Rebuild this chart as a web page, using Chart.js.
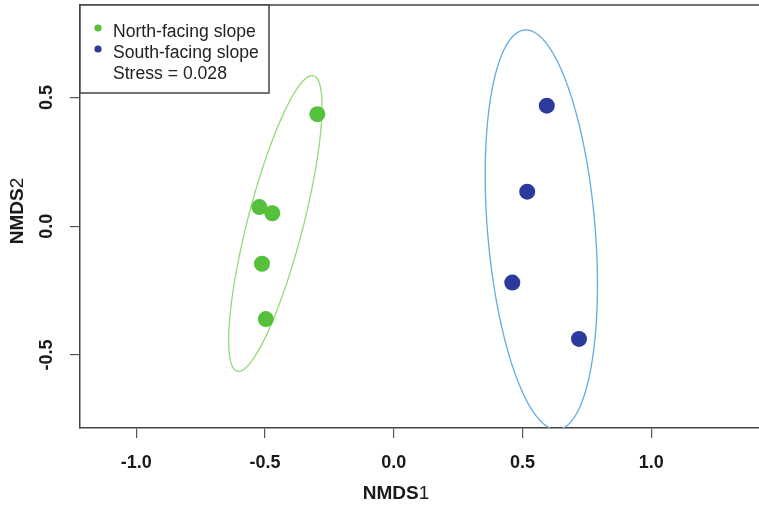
<!DOCTYPE html>
<html><head><meta charset="utf-8">
<script src="https://cdn.jsdelivr.net/npm/chart.js@4.4.1/dist/chart.umd.min.js"></script>
<style>html,body{margin:0;padding:0;background:#fff;overflow:hidden}#wrap{width:759px;height:507px;position:relative}canvas{display:block}</style>
</head><body><div id="wrap"><canvas id="c" width="759" height="507"></canvas></div>
<script>
// NMDS site scores per slope aspect
const groupNames = ['North-facing slope', 'South-facing slope'];
const northX = [-0.297, -0.522, -0.472, -0.512, -0.497];
const northY = [0.435, 0.074, 0.050, -0.146, -0.361];
const southX = [0.594, 0.518, 0.460, 0.719];
const southY = [0.468, 0.134, -0.219, -0.438];
const xTicks = [-1.0, -0.5, 0.0, 0.5, 1.0];
const yTicks = [-0.5, 0.0, 0.5];
const stressText = 'Stress = 0.028';
const ellipseConf = 0.85;

const FONT = '"Liberation Sans", Arial, sans-serif';
const pointColors = ['#55c13b', '#2b3a9c'];
const ellipseColors = ['#8fdc78', '#62acdf'];

// dispersion ellipse from the group's covariance (chi-square scaled, 2 df)
function ellipse(xs, ys, conf, n = 240) {
  const k = xs.length;
  const mx = xs.reduce((a, b) => a + b, 0) / k;
  const my = ys.reduce((a, b) => a + b, 0) / k;
  let sxx = 0, syy = 0, sxy = 0;
  for (let i = 0; i < k; i++) {
    const dx = xs[i] - mx, dy = ys[i] - my;
    sxx += dx * dx; syy += dy * dy; sxy += dx * dy;
  }
  sxx /= (k - 1); syy /= (k - 1); sxy /= (k - 1);
  const s = Math.sqrt(-2 * Math.log(1 - conf));
  const l11 = Math.sqrt(sxx), l21 = sxy / l11, l22 = Math.sqrt(syy - l21 * l21);
  const pts = [];
  for (let i = 0; i <= n; i++) {
    const t = 2 * Math.PI * i / n;
    const c = Math.cos(t), sn = Math.sin(t);
    pts.push({ x: mx + s * l11 * c, y: my + s * (l21 * c + l22 * sn) });
  }
  return pts;
}
const zip = (xs, ys) => xs.map((x, i) => ({ x, y: ys[i] }));

// frame top edge, y tick labels, axis titles and legend box
const decorations = {
  id: 'decorations',
  afterDraw(chart) {
    const { ctx, chartArea: a, scales } = chart;
    ctx.save();
    ctx.strokeStyle = '#444';
    ctx.lineWidth = 1.5;
    ctx.beginPath();
    ctx.moveTo(a.left, a.top);
    ctx.lineTo(a.right + 2, a.top);
    ctx.stroke();

    ctx.fillStyle = '#1a1a1a';
    ctx.font = 'bold 18px ' + FONT;
    ctx.textAlign = 'center';
    ctx.textBaseline = 'middle';
    yTicks.forEach(v => {
      const py = scales.y.getPixelForValue(v);
      ctx.save();
      ctx.translate(46, py);
      ctx.rotate(-Math.PI / 2);
      ctx.fillText(v.toFixed(1), 0, 1);
      ctx.restore();
    });

    const drawTitle = (main, sub, cx, cy, rot) => {
      ctx.save();
      ctx.translate(cx, cy);
      ctx.rotate(rot);
      ctx.font = 'bold 19px ' + FONT;
      const w1 = ctx.measureText(main).width;
      ctx.font = '19px ' + FONT;
      const w2 = ctx.measureText(sub).width;
      ctx.textAlign = 'left';
      ctx.textBaseline = 'middle';
      ctx.fillStyle = '#1a1a1a';
      ctx.font = 'bold 19px ' + FONT;
      ctx.fillText(main, -(w1 + w2) / 2, 0);
      ctx.font = '19px ' + FONT;
      ctx.fillText(sub, -(w1 + w2) / 2 + w1, 0);
      ctx.restore();
    };
    drawTitle('NMDS', '1', 396, 494, 0);
    drawTitle('NMDS', '2', 18, 211, -Math.PI / 2);

    // legend
    const bx = a.left, by = a.top, bw = 189, bh = 88;
    ctx.fillStyle = '#fff';
    ctx.fillRect(bx, by, bw, bh);
    ctx.strokeStyle = '#444';
    ctx.lineWidth = 1.5;
    ctx.strokeRect(bx, by, bw, bh);
    ctx.font = '17.6px ' + FONT;
    ctx.textAlign = 'left';
    ctx.textBaseline = 'middle';
    const rows = [groupNames[0], groupNames[1], stressText];
    rows.forEach((txt, i) => {
      const ty = by + 26 + i * 21;
      if (i < 2) {
        ctx.fillStyle = pointColors[i];
        ctx.beginPath();
        ctx.arc(bx + 18, ty - 3, 3.6, 0, 2 * Math.PI);
        ctx.fill();
      }
      ctx.fillStyle = '#222';
      ctx.fillText(txt, bx + 33, ty + 1);
    });
    ctx.restore();
  }
};

const ellipseStyle = { showLine: true, borderWidth: 1.3, pointRadius: 0, fill: false, tension: 0.05 };

new Chart(document.getElementById('c'), {
  type: 'scatter',
  data: {
    datasets: [
      { label: groupNames[0], data: zip(northX, northY), backgroundColor: pointColors[0], borderWidth: 0, pointRadius: 8, pointHoverRadius: 8 },
      { label: groupNames[1], data: zip(southX, southY), backgroundColor: pointColors[1], borderWidth: 0, pointRadius: 8, pointHoverRadius: 8 },
      Object.assign({ label: 'north ellipse', data: ellipse(northX, northY, ellipseConf), borderColor: ellipseColors[0] }, ellipseStyle),
      Object.assign({ label: 'south ellipse', data: ellipse(southX, southY, ellipseConf), borderColor: ellipseColors[1] }, ellipseStyle)
    ]
  },
  options: {
    responsive: false,
    animation: false,
    devicePixelRatio: 1,
    layout: { autoPadding: false, padding: { top: 5, right: 0, left: 0, bottom: 0 } },
    plugins: { legend: { display: false }, tooltip: { enabled: false } },
    scales: {
      x: {
        type: 'linear', min: -1.2186, max: 1.418,
        afterBuildTicks: s => { s.ticks = xTicks.map(v => ({ value: v })); },
        afterFit: s => { s.height = 79; },
        grid: { display: true, drawOnChartArea: false, drawTicks: true, tickLength: 10, color: '#555', lineWidth: 1.2 },
        border: { display: true, color: '#444', width: 1.5 },
        ticks: { color: '#1a1a1a', font: { family: FONT, size: 18, weight: 'bold' }, padding: 14, maxRotation: 0, callback: v => v.toFixed(1) }
      },
      y: {
        type: 'linear', min: -0.784, max: 0.859,
        afterBuildTicks: s => { s.ticks = yTicks.map(v => ({ value: v })); },
        afterFit: s => { s.width = 80; },
        grid: { display: true, drawOnChartArea: false, drawTicks: true, tickLength: 10, color: '#555', lineWidth: 1.2 },
        border: { display: true, color: '#444', width: 1.5 },
        ticks: { display: false }
      }
    }
  },
  plugins: [decorations]
});
</script>
</body></html>
